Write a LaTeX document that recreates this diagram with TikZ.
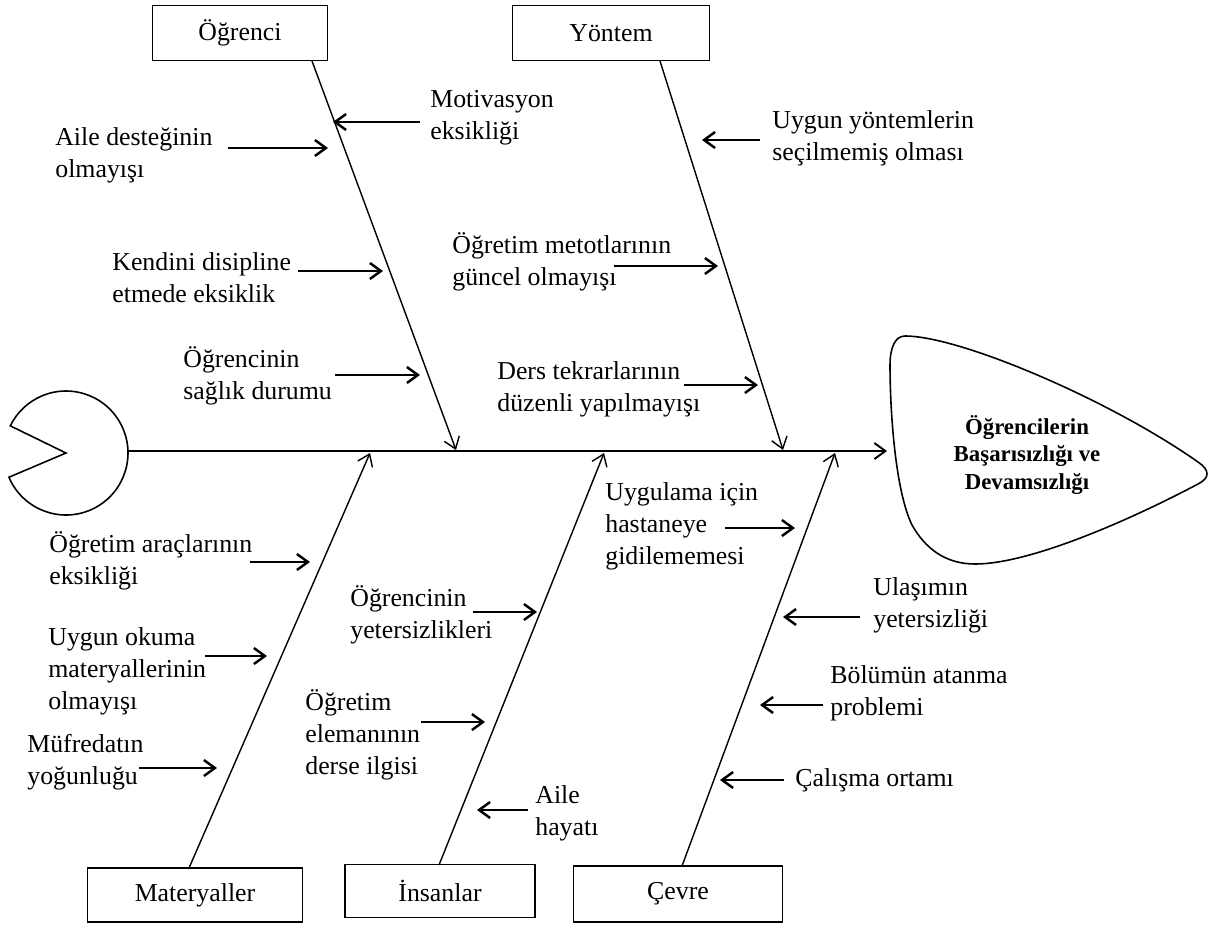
\documentclass[tikz,border=0pt]{standalone}
\usepackage{fontspec}
\setmainfont{Liberation Serif}
\usetikzlibrary{arrows.meta,positioning}

\begin{document}
\begin{tikzpicture}[
    x=0.02cm, y=-0.02cm,
    every node/.style={font=\fontsize{14.7}{18.3}\selectfont},
    category/.style={rectangle, draw, line width=0.8pt, inner sep=0pt, minimum height=1.1cm},
    cause/.style={anchor=west, align=left, inner sep=0pt},
    bone/.style={-{Straight Barb[length=2.2mm, width=3.2mm]}, line width=0.8pt},
    push/.style={-{Straight Barb[length=2.2mm, width=3.2mm]}, line width=1.4pt},
]
    \useasboundingbox (0,0) rectangle (1219,927);

    % categories
    \node[category, minimum width=3.5cm] (ogrenci) at (240,33) {Öğrenci};
    \node[category, minimum width=3.94cm] (yontem) at (611,33) {Yöntem};
    \node[category, minimum width=4.3cm, minimum height=1.08cm] (materyal) at (195,895) {Materyaller};
    \node[category, minimum width=3.8cm, minimum height=1.06cm] (insan) at (440,891) {İnsanlar};
    \node[category, minimum width=4.18cm, minimum height=1.12cm] (cevre) at (678,894) {Çevre};

    % tail and spine
    \draw[line width=0.9pt] (66,453) -- ++(203:1.24cm) arc[start angle=203, end angle=514, radius=1.24cm] -- cycle;
    \coordinate (kuyruk) at (128,451);
    \coordinate (bas) at (887,451);
    \draw[bone, line width=1.1pt] (kuyruk) -- (bas);

    % head
    \draw[line width=0.9pt] (905,336) .. controls (960,336) and (1110,400) .. (1198,462)
        .. controls (1210,470) and (1210,478) .. (1198,484)
        .. controls (1130,520) and (1030,564) .. (975,564)
        .. controls (945,564) and (925,548) .. (912,525)
        .. controls (895,490) and (890,410) .. (890,365)
        .. controls (890,348) and (895,336) .. (905,336) -- cycle;
    \node[align=center, font=\bfseries\fontsize{13}{15.6}\selectfont] (sonuc) at (1027,455) {Öğrencilerin\\Başarısızlığı ve\\Devamsızlığı};

    % bones
    \coordinate (ogrenci-b) at (312,61);  \coordinate (ogrenci-t) at (456,450);
    \coordinate (yontem-b) at (660,61);   \coordinate (yontem-t) at (783,450);
    \coordinate (materyal-b) at (189,868); \coordinate (materyal-t) at (370,453);
    \coordinate (insan-b) at (439,865);   \coordinate (insan-t) at (604,453);
    \coordinate (cevre-b) at (682,866);   \coordinate (cevre-t) at (835,453);
    \draw[bone] (ogrenci-b) -- (ogrenci-t);
    \draw[bone] (yontem-b) -- (yontem-t);
    \draw[bone] (materyal-b) -- (materyal-t);
    \draw[bone] (insan-b) -- (insan-t);
    \draw[bone] (cevre-b) -- (cevre-t);

    % causes: Öğrenci
    \node[cause] (destek) at (55,155) {Aile desteğinin\\olmayışı};
    \node[cause] (motiv) at (430,118) {Motivasyon\\eksikliği};
    \node[cause] (disiplin) at (112,278) {Kendini disipline\\etmede eksiklik};
    \node[cause] (saglik) at (183,376) {Öğrencinin\\sağlık durumu};
    \coordinate (destek-a) at (228,148); \coordinate (destek-z) at (328,148);
    \coordinate (motiv-a) at (420,122);  \coordinate (motiv-z) at (333,122);
    \coordinate (disiplin-a) at (298,271); \coordinate (disiplin-z) at (383,271);
    \coordinate (saglik-a) at (335,375); \coordinate (saglik-z) at (420,375);
    \draw[push] (destek-a) -- (destek-z);
    \draw[push] (motiv-a) -- (motiv-z);
    \draw[push] (disiplin-a) -- (disiplin-z);
    \draw[push] (saglik-a) -- (saglik-z);

    % causes: Yöntem
    \node[cause] (secim) at (772,138) {Uygun yöntemlerin\\seçilmemiş olması};
    \node[cause] (metot) at (452,262) {Öğretim metotlarının\\güncel olmayışı};
    \node[cause] (tekrar) at (497,389) {Ders tekrarlarının\\düzenli yapılmayışı};
    \coordinate (secim-a) at (760,140);  \coordinate (secim-z) at (702,140);
    \coordinate (metot-a) at (614,266);  \coordinate (metot-z) at (718,266);
    \coordinate (tekrar-a) at (684,385); \coordinate (tekrar-z) at (758,385);
    \draw[push] (secim-a) -- (secim-z);
    \draw[push] (metot-a) -- (metot-z);
    \draw[push] (tekrar-a) -- (tekrar-z);

    % causes: Materyaller
    \node[cause] (arac) at (49,561) {Öğretim araçlarının\\eksikliği};
    \node[cause] (okuma) at (48,671) {Uygun okuma\\materyallerinin\\olmayışı};
    \node[cause] (mufredat) at (27,762) {Müfredatın\\yoğunluğu};
    \coordinate (arac-a) at (250,562);   \coordinate (arac-z) at (310,562);
    \coordinate (okuma-a) at (205,656);  \coordinate (okuma-z) at (267,656);
    \coordinate (mufredat-a) at (139,768); \coordinate (mufredat-z) at (217,768);
    \draw[push] (arac-a) -- (arac-z);
    \draw[push] (okuma-a) -- (okuma-z);
    \draw[push] (mufredat-a) -- (mufredat-z);

    % causes: İnsanlar
    \node[cause] (yeter) at (350,615) {Öğrencinin\\yetersizlikleri};
    \node[cause] (eleman) at (305,735) {Öğretim\\elemanının\\derse ilgisi};
    \node[cause] (aile) at (535,813) {Aile\\hayatı};
    \coordinate (yeter-a) at (473,612);  \coordinate (yeter-z) at (537,612);
    \coordinate (eleman-a) at (421,722); \coordinate (eleman-z) at (485,722);
    \coordinate (aile-a) at (528,810);   \coordinate (aile-z) at (477,810);
    \draw[push] (yeter-a) -- (yeter-z);
    \draw[push] (eleman-a) -- (eleman-z);
    \draw[push] (aile-a) -- (aile-z);

    % causes: Çevre
    \node[cause] (hastane) at (605,526) {Uygulama için\\hastaneye\\gidilememesi};
    \node[cause] (ulasim) at (873,605) {Ulaşımın\\yetersizliği};
    \node[cause] (atanma) at (830,693) {Bölümün atanma\\problemi};
    \node[cause] (ortam) at (795,780) {Çalışma ortamı};
    \coordinate (hastane-a) at (725,528); \coordinate (hastane-z) at (795,528);
    \coordinate (ulasim-a) at (860,617); \coordinate (ulasim-z) at (783,617);
    \coordinate (atanma-a) at (823,705); \coordinate (atanma-z) at (760,705);
    \coordinate (ortam-a) at (784,780);  \coordinate (ortam-z) at (720,780);
    \draw[push] (hastane-a) -- (hastane-z);
    \draw[push] (ulasim-a) -- (ulasim-z);
    \draw[push] (atanma-a) -- (atanma-z);
    \draw[push] (ortam-a) -- (ortam-z);
\end{tikzpicture}
\end{document}
